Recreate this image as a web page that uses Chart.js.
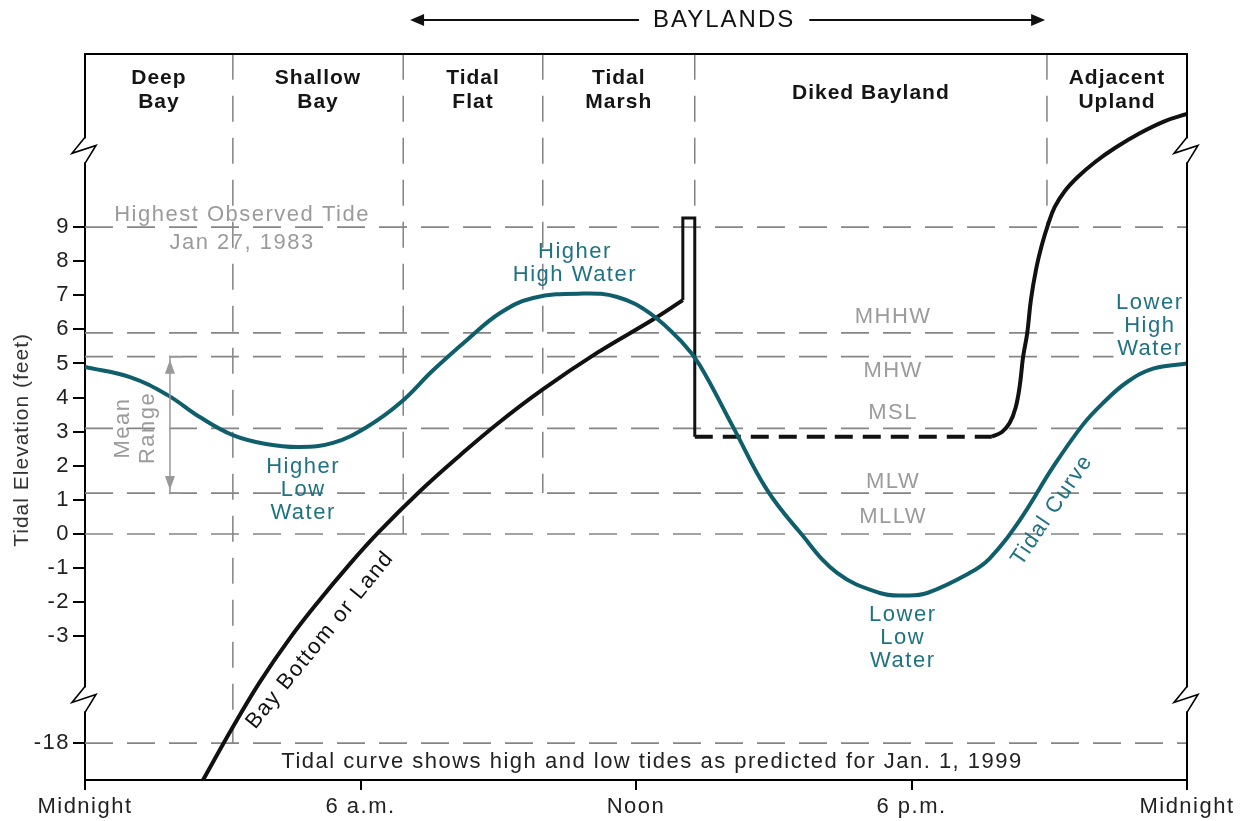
<!DOCTYPE html>
<html>
<head>
<meta charset="utf-8">
<title>Baylands and tidal elevation</title>
<script src="https://cdn.jsdelivr.net/npm/chart.js@4.4.1/dist/chart.umd.min.js"></script>
<style>
  html, body { margin: 0; padding: 0; background: #fff; }
  canvas { display: block; }
</style>
</head>
<body>
<canvas id="tideChart" width="1240" height="821"></canvas>
<script>
// tidal curve for Jan. 1, 1999 (hours after midnight, feet)
const tideHours = [0, 0.98, 1.79, 2.5, 3.22, 3.94, 4.68, 5.4, 6.14, 6.86, 7.58, 8.32, 9.04, 9.76, 10.85, 11.59, 12.3, 13.02, 13.39, 14.11, 14.85, 15.57, 16.38, 17.31, 17.86, 18.34, 19.27, 19.7, 20.36, 21.08, 21.73, 22.17, 22.69, 23.26, 24];
const tideFeet  = [4.9, 4.6, 4.08, 3.43, 2.9, 2.64, 2.55, 2.67, 3.14, 3.84, 4.8, 5.69, 6.48, 6.92, 7.05, 6.95, 6.48, 5.6, 4.95, 3.15, 1.3, 0.05, -1.14, -1.73, -1.8, -1.73, -1.14, -0.72, 0.41, 1.96, 3.2, 3.84, 4.45, 4.85, 5.0];

// bay bottom / land profile
const bayHours = [2.57, 3.22, 3.81, 4.46, 5.12, 5.71, 6.38, 7.3, 8.17, 8.97, 9.97, 11.15, 12.37, 13.02];
const bayFeet  = [-23.2, -15.75, -9.4, -3.29, -1.92, -0.97, 0.03, 1.26, 2.31, 3.22, 4.24, 5.31, 6.29, 6.86];
const leveeHours = [13.02, 13.02, 13.28, 13.28];
const leveeFeet  = [6.86, 9.27, 9.27, 2.85];
const dikedHours = [13.28, 19.75];
const dikedFeet  = [2.85, 2.85];
const uplandHours = [19.75, 19.97, 20.14, 20.27, 20.36, 20.43, 20.52, 20.6, 20.71, 20.84, 20.97, 21.12, 21.34, 21.62, 22.0, 22.43, 22.98, 23.52, 24];
const uplandFeet  = [2.85, 2.99, 3.26, 3.72, 4.37, 5.19, 5.89, 6.86, 7.74, 8.48, 9.06, 9.59, 10.06, 10.47, 10.91, 11.32, 11.76, 12.11, 12.32];

// tidal datums
const levelNames = ['Highest Observed Tide', 'MHHW', 'MHW', 'MSL', 'MLW', 'MLLW', ''];
const levelFeet  = [9, 5.9, 5.2, 3.1, 1.2, 0, -18];
const levelEnds  = [24, 22.4, 22.4, 24, 24, 24, 24];

// zones
const zoneNames = [['Deep', 'Bay'], ['Shallow', 'Bay'], ['Tidal', 'Flat'], ['Tidal', 'Marsh'], ['Diked Bayland'], ['Adjacent', 'Upland']];
const zoneEdges = [3.22, 6.93, 9.97, 13.28, 20.95];
const zoneFloors = [-18, 0, 1.2, 9.27, 9.0];

// axes
const xTickHours  = [0, 6, 12, 18, 24];
const xTickLabels = ['Midnight', '6 a.m.', 'Noon', '6 p.m.', 'Midnight'];
const yTickFeet   = [9, 8, 7, 6, 5, 4, 3, 2, 1, 0, -1, -2, -3, -18];

// broken y axis: below -3 ft the scale is squeezed
const toAxis = ft => ft >= -3 ? ft : -3 + (ft + 3) * 0.2087;
const pts = (xs, ys) => xs.map((h, i) => ({x: h, y: toAxis(ys[i])}));

const FONT = 'Liberation Sans, Arial, sans-serif';
const TEAL = '#0f5e6b';
const TEAL_TEXT = '#1f7282';
const GRAY_TEXT = '#9b9b9b';

const datasets = [
  {data: pts(tideHours, tideFeet), borderColor: TEAL, borderWidth: 4, tension: 0.4, order: 1},
  {data: pts(bayHours, bayFeet), borderColor: '#111', borderWidth: 4, tension: 0.4, order: 2},
  {data: pts(leveeHours, leveeFeet), borderColor: '#111', borderWidth: 3, tension: 0, order: 2},
  {data: pts(dikedHours, dikedFeet), borderColor: '#111', borderWidth: 4, borderDash: [18, 10], tension: 0, order: 2},
  {data: pts(uplandHours, uplandFeet), borderColor: '#111', borderWidth: 4, tension: 0.4, order: 2}
];
levelFeet.forEach((f, i) => datasets.push({
  data: [{x: 0, y: toAxis(f)}, {x: levelEnds[i], y: toAxis(f)}],
  borderColor: '#858585', borderWidth: 1.7, borderDash: [28, 14], tension: 0, order: 10
}));
zoneEdges.forEach((h, i) => datasets.push({
  data: [{x: h, y: 14.08}, {x: h, y: toAxis(zoneFloors[i])}],
  borderColor: '#7a7a7a', borderWidth: 1.4, borderDash: [26, 16], tension: 0, order: 10
}));

// text labels: anchor = centre of first line, in axis units
const notes = [
  {lines: ['Highest Observed Tide'], x: 3.42, y: 9.35, color: GRAY_TEXT},
  {lines: ['Jan 27, 1983'], x: 3.42, y: 8.53, color: GRAY_TEXT},
  {lines: ['MHHW'], x: 17.6, y: 6.36, color: GRAY_TEXT},
  {lines: ['MHW'], x: 17.6, y: 4.78, color: GRAY_TEXT},
  {lines: ['MSL'], x: 17.6, y: 3.55, color: GRAY_TEXT},
  {lines: ['MLW'], x: 17.6, y: 1.52, color: GRAY_TEXT},
  {lines: ['MLLW'], x: 17.6, y: 0.5, color: GRAY_TEXT},
  {lines: ['Mean', 'Range'], x: 0.83, y: 3.11, color: GRAY_TEXT, rot: -90, lh: 25},
  {lines: ['Higher', 'High Water'], x: 10.67, y: 8.27, color: TEAL_TEXT},
  {lines: ['Higher', 'Low', 'Water'], x: 4.75, y: 1.96, color: TEAL_TEXT},
  {lines: ['Lower', 'Low', 'Water'], x: 17.81, y: -2.38, color: TEAL_TEXT},
  {lines: ['Lower', 'High', 'Water'], x: 23.19, y: 6.77, color: TEAL_TEXT},
  {lines: ['Tidal Curve'], x: 21.06, y: 0.7, color: TEAL_TEXT, rot: -56},
  {lines: ['Bay Bottom or Land'], x: 5.12, y: -3.11, color: '#111', rot: -51},
  {lines: ['Tidal curve shows high and low tides as predicted for Jan. 1, 1999'], x: 12.35, y: -6.69, color: '#222'},
  {lines: ['Tidal Elevation (feet)'], x: -1.37, y: 2.76, color: '#333', rot: -90, size: 21, spacing: '1px'}
];

function drawBreak(ctx, bx, by) {
  ctx.fillStyle = '#fff';
  ctx.fillRect(bx - 3, by - 12, 6, 24);
  ctx.strokeStyle = '#000';
  ctx.lineWidth = 1.6;
  ctx.beginPath();
  ctx.moveTo(bx, by - 13);
  ctx.lineTo(bx - 13, by + 3);
  ctx.lineTo(bx + 11, by - 5);
  ctx.lineTo(bx, by + 13);
  ctx.stroke();
}

function arrowHead(ctx, tx, ty, dx, dy, len, half) {
  ctx.beginPath();
  ctx.moveTo(tx, ty);
  ctx.lineTo(tx - dx * len - dy * half, ty - dy * len + dx * half);
  ctx.lineTo(tx - dx * len + dy * half, ty - dy * len - dx * half);
  ctx.closePath();
  ctx.fill();
}

const decor = {
  id: 'decor',
  beforeDraw(chart) { chart.ctx.letterSpacing = '1.5px'; },
  afterDraw(chart) {
    const {ctx, chartArea: a, scales: {x, y}} = chart;
    ctx.save();
    ctx.strokeStyle = '#000';
    ctx.lineWidth = 2;
    ctx.beginPath();
    ctx.moveTo(a.left, a.top);
    ctx.lineTo(a.right, a.top);
    ctx.lineTo(a.right, a.bottom);
    ctx.stroke();
    for (const b of [11.25, -4.85]) {
      drawBreak(ctx, a.left, y.getPixelForValue(b));
      drawBreak(ctx, a.right, y.getPixelForValue(b));
    }

    // zone headings
    const edges = [0, ...zoneEdges, 24];
    ctx.fillStyle = '#151515';
    ctx.font = 'bold 21px ' + FONT;
    ctx.letterSpacing = '1px';
    ctx.textAlign = 'center';
    ctx.textBaseline = 'middle';
    zoneNames.forEach((lines, i) => {
      const cx = x.getPixelForValue((edges[i] + edges[i + 1]) / 2);
      const top = lines.length > 1 ? y.getPixelForValue(13.37) : y.getPixelForValue(12.93);
      lines.forEach((t, j) => ctx.fillText(t, cx, top + j * 24));
    });

    // BAYLANDS arrow
    ctx.font = '24px ' + FONT;
    ctx.letterSpacing = '2px';
    const by = y.getPixelForValue(15.07);
    const bx = x.getPixelForValue(13.92);
    const w = ctx.measureText('BAYLANDS').width;
    ctx.fillStyle = '#111';
    ctx.fillText('BAYLANDS', bx, by);
    const l0 = x.getPixelForValue(7.08), l1 = x.getPixelForValue(20.91);
    ctx.strokeStyle = '#111';
    ctx.lineWidth = 2;
    ctx.beginPath();
    ctx.moveTo(l0 + 6, by); ctx.lineTo(bx - w / 2 - 14, by);
    ctx.moveTo(bx + w / 2 + 14, by); ctx.lineTo(l1 - 6, by);
    ctx.stroke();
    arrowHead(ctx, l0, by, -1, 0, 14, 6);
    arrowHead(ctx, l1, by, 1, 0, 14, 6);

    // mean range arrow
    const mx = x.getPixelForValue(1.85);
    const mt = y.getPixelForValue(5.2), mb = y.getPixelForValue(1.2);
    ctx.strokeStyle = '#999';
    ctx.fillStyle = '#999';
    ctx.lineWidth = 1.5;
    ctx.beginPath();
    ctx.moveTo(mx, mt); ctx.lineTo(mx, mb);
    ctx.moveTo(mx, mt); ctx.lineTo(mx + 12, mt);
    ctx.moveTo(mx, mb); ctx.lineTo(mx + 12, mb);
    ctx.stroke();
    arrowHead(ctx, mx, mt + 3, 0, -1, 14, 5);
    arrowHead(ctx, mx, mb - 3, 0, 1, 14, 5);

    // text notes
    for (const n of notes) {
      ctx.save();
      ctx.font = (n.size || 22) + 'px ' + FONT;
      ctx.letterSpacing = n.spacing || '1.5px';
      ctx.translate(x.getPixelForValue(n.x), y.getPixelForValue(n.y));
      ctx.rotate((n.rot || 0) * Math.PI / 180);
      ctx.fillStyle = n.color;
      n.lines.forEach((t, j) => ctx.fillText(t, 0, j * (n.lh || 23)));
      ctx.restore();
    }
    ctx.restore();
  }
};

new Chart(document.getElementById('tideChart'), {
  type: 'line',
  data: {datasets},
  plugins: [decor],
  options: {
    responsive: false,
    animation: false,
    events: [],
    layout: {padding: {top: 54, right: 53, left: 0, bottom: 0}},
    elements: {point: {radius: 0}},
    plugins: {legend: {display: false}, tooltip: {enabled: false}},
    scales: {
      x: {
        type: 'linear', min: 0, max: 24,
        afterBuildTicks: s => { s.ticks = xTickHours.map(v => ({value: v})); },
        afterFit: s => { s.height = 41; },
        ticks: {
          autoSkip: false, maxRotation: 0, padding: 4, color: '#222',
          font: {family: FONT, size: 22},
          callback: (v, i) => xTickLabels[i]
        },
        grid: {drawOnChartArea: false, tickLength: 10, color: '#000', lineWidth: 2},
        border: {display: true, color: '#000', width: 2}
      },
      y: {
        type: 'linear', min: -7.214, max: 14.076,
        afterBuildTicks: s => { s.ticks = yTickFeet.map(v => ({value: toAxis(v)})); },
        afterFit: s => { s.width = 85; },
        ticks: {
          autoSkip: false, padding: 3, color: '#222',
          font: {family: FONT, size: 22},
          callback: (v, i) => String(yTickFeet[i])
        },
        grid: {drawOnChartArea: false, tickLength: 12, color: '#000', lineWidth: 2},
        border: {display: true, color: '#000', width: 2}
      }
    }
  }
});
</script>
</body>
</html>
